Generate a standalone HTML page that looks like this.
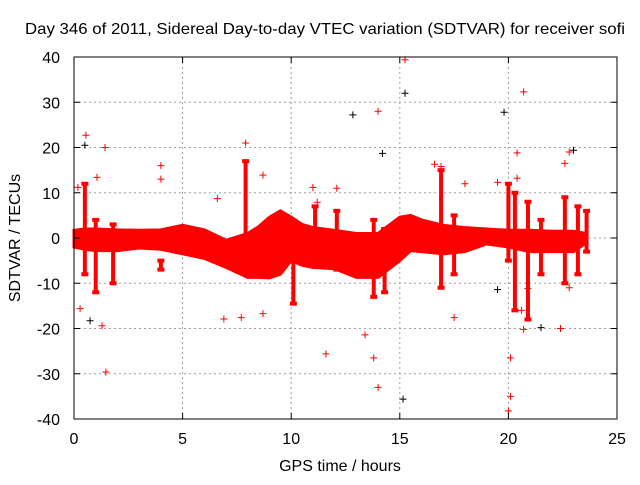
<!DOCTYPE html>
<html><head><meta charset="utf-8"><style>
body{margin:0;background:#fff}
svg text{font-family:"Liberation Sans",sans-serif;font-size:16px;fill:#000}
</style></head><body>
<svg id="chart" width="640" height="480" xmlns="http://www.w3.org/2000/svg">
<rect width="640" height="480" fill="#fff"/>
<text x="325" y="34" text-anchor="middle" textLength="600" lengthAdjust="spacingAndGlyphs">Day 346 of 2011, Sidereal Day-to-day VTEC variation (SDTVAR) for receiver sofi</text>
<text transform="translate(20,238) rotate(-90)" text-anchor="middle">SDTVAR / TECUs</text>
<text x="340" y="471" text-anchor="middle">GPS time / hours</text>
<g id="grid"></g>
<g id="marks"></g>
<rect x="74" y="57" width="543" height="362" fill="none" stroke="#000"/>
<g id="ticks"></g>
</svg>
<script>
const xTicks=[0,5,10,15,20,25];
const yTicks=[-40,-30,-20,-10,0,10,20,30,40];
const bandT=[0,0.5,1,2,3,4,5,6,7,8,8.5,9,9.5,10,10.5,11,12,13,14,15,15.5,16,17,18,19,20,21,22,23,23.6];
const bandHi=[1.7,2,2,1.8,1.7,1.8,2.8,1.8,-0.5,1,2.5,4.6,6,4.6,3,2.3,1.7,1,1,4.6,5,4,2.8,2.3,2,1.7,1.7,1.5,1.5,1];
const bandLo=[-2,-2.5,-2.8,-2.8,-2.2,-2.5,-3.5,-4.5,-6.5,-8.7,-8.7,-8.8,-8,-5,-6,-6.5,-6.8,-8.7,-8.7,-5,-2.8,-3,-3.5,-3,-1.3,-2,-3,-3,-3,-1];
const spikeT=[0.5,1.0,1.8,4.0,7.9,10.1,11.1,12.1,13.8,14.3,16.9,17.5,20.0,20.3,20.9,21.5,22.6,23.2,23.6];
const spikeLo=[-8,-12,-10,-7,-4,-14.5,-6,-7,-13,-12,-11,-8,-5,-16,-18,-8,-10,-8,-3];
const spikeHi=[12,4,3,-5,17,-3,7,6,4,2,15,5,12,10,8,4,9,7,6];
const ptT=[0.55,0.5,1.43,1.06,0.18,0.28,0.74,1.29,1.47,4.0,4.0,7.9,8.7,8.7,6.9,7.7,12.84,11.6,13.4,13.8,14.0,14.0,14.2,15.24,15.24,15.15,17.5,19.8,20.7,20.1,20.0,20.1,22.8,23.0,22.6,22.4,21.5,22.8,19.5,11,11.2,12.1,6.6,16.9,16.6,18.0,19.5,20.4,20.4,20.6,20.7,20.9];
const ptV=[22.7,20.5,20,13.4,11.2,-15.6,-18.3,-19.4,-29.6,16,13,21,13.9,-16.7,-17.9,-17.6,27.2,-25.6,-21.4,-26.5,28,-33,18.7,39.4,32,-35.6,-17.6,27.8,32.3,-35,-38.2,-26.5,19,19.4,16.5,-20,-19.8,-11,-11.4,11.2,7.9,11,8.7,15.8,16.3,12,12.3,13.2,18.8,-16,-20.2,-11.2];
const ptBlack=[0,1,0,0,0,0,1,0,0,0,0,0,0,0,0,0,1,0,0,0,0,0,1,0,1,1,0,1,0,0,0,0,0,1,0,0,1,0,1,0,0,0,0,0,0,0,0,0,0,0,0,0];
const NS="http://www.w3.org/2000/svg";
const X0=74,X1=617,Y0=419,Y1=57;
function sx(t){return X0+(t-0)/(25-0)*(X1-X0);}
function sy(v){return Y0-(v+40)/80*(Y0-Y1);}
function mk(tag,attrs,parent){const e=document.createElementNS(NS,tag);for(const k in attrs)e.setAttribute(k,attrs[k]);parent.appendChild(e);return e;}
const grid=document.getElementById('grid'),marks=document.getElementById('marks'),ticks=document.getElementById('ticks');
xTicks.forEach(t=>{
  const x=sx(t);
  if(t>0&&t<25){const g=mk('line',{x1:x,x2:x,y1:Y1,y2:Y0,stroke:'#a0a0a0','stroke-dasharray':'2,3'},grid);
  
  }
  const tk=mk('path',{d:`M${x},${Y0}v-6M${x},${Y1}v6`,stroke:'#000'},ticks);
  
  
  const l=mk('text',{x:x,y:444,'text-anchor':'middle'},ticks);l.textContent=t;
  
  
});
yTicks.forEach(v=>{
  const y=sy(v);
  if(v>-40&&v<40){const g=mk('line',{x1:X0,x2:X1,y1:y,y2:y,stroke:'#a0a0a0','stroke-dasharray':'2,3'},grid);
  
  }
  const tk=mk('path',{d:`M${X0},${y}h6M${X1},${y}h-6`,stroke:'#000'},ticks);
  
  
  const l=mk('text',{x:60,y:y+6,'text-anchor':'end'},ticks);l.textContent=v;
  
  
});
let d='';
bandT.forEach((t,i)=>{d+=(i?'L':'M')+sx(t)+','+sy(bandHi[i]);});
for(let i=bandT.length-1;i>=0;i--)d+='L'+sx(bandT[i])+','+sy(bandLo[i]);
const band=mk('path',{d:d+'Z',fill:'#f00',stroke:'#f00','stroke-width':3},marks);


spikeT.forEach((t,i)=>{
  const x=sx(t);
  const s=mk('path',{d:`M${x},${sy(spikeLo[i])}V${sy(spikeHi[i])}M${x-3.5},${sy(spikeLo[i])}h7M${x-3.5},${sy(spikeHi[i])}h7`,stroke:'#f00','stroke-width':4},marks);
  
  
});
ptT.forEach((t,i)=>{
  const x=sx(t),y=sy(ptV[i]);
  const p=mk('path',{d:`M${x-3.5},${y}h7M${x},${y-3.5}v7`,stroke:ptBlack[i]?'#000':'#f00','stroke-width':1},marks);
  
  
});
</script>
</body></html>
